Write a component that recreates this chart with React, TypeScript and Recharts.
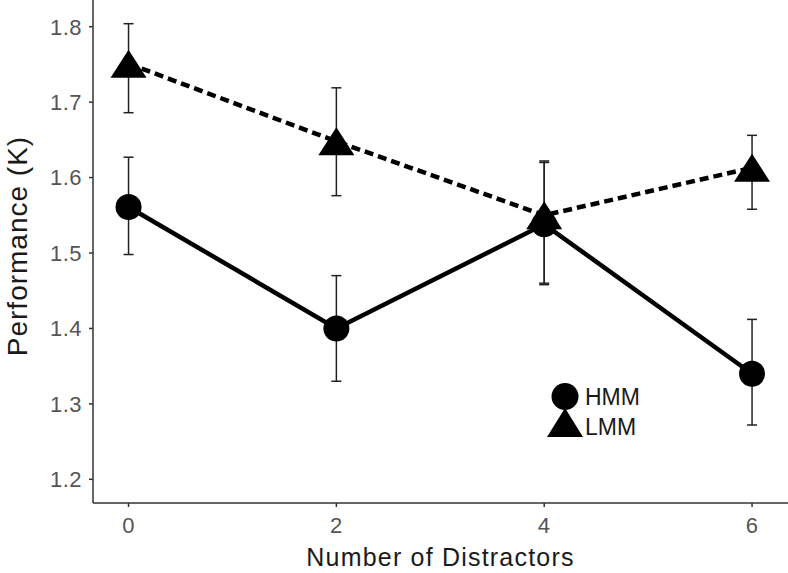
import React from "react";
import {
    ComposedChart,
    Line,
    XAxis,
    YAxis,
    ErrorBar
} from "recharts";

const distractors = [0, 2, 4, 6];
const hmmMean = [1.561, 1.4, 1.538, 1.34];
const hmmLow = [1.498, 1.33, 1.458, 1.272];
const hmmHigh = [1.627, 1.47, 1.62, 1.412];
const lmmMean = [1.751, 1.648, 1.55, 1.613];
const lmmLow = [1.686, 1.576, 1.46, 1.558];
const lmmHigh = [1.804, 1.719, 1.622, 1.656];
const xTicks = [0, 2, 4, 6];
const yTicks = [1.2, 1.3, 1.4, 1.5, 1.6, 1.7, 1.8];

const FONT = "'Liberation Sans', Arial, sans-serif";

/** Rows for recharts, error as [minus, plus] */
const data = distractors.map((x, i) => ({
    x,
    hmm: hmmMean[i],
    hmmErr: [hmmMean[i] - hmmLow[i], hmmHigh[i] - hmmMean[i]],
    lmm: lmmMean[i],
    lmmErr: [lmmMean[i] - lmmLow[i], lmmHigh[i] - lmmMean[i]]
}));

const Circle = (props: any) => {
    const { cx, cy, index } = props;
    return <circle key={`c${index}`} cx={cx} cy={cy} r={13} fill="#000" />;
};

const Triangle = (props: any) => {
    const { cx, cy, index } = props;
    const w = 18;
    const h = 14;
    return (
        <polygon
            key={`t${index}`}
            points={`${cx - w},${cy + h} ${cx + w},${cy + h} ${cx},${cy - h}`}
            fill="#000"
        />
    );
};

const tickStyle = { fill: "#555", fontSize: 22, fontFamily: FONT, letterSpacing: 0.5 };

export default function App() {
    return (
        <div style={{ position: "relative", width: 788, height: 573 }}>
            <style>{"body{margin:0}"}</style>
            <ComposedChart
                width={788}
                height={573}
                data={data}
                margin={{ top: 0, right: 0, left: 0, bottom: 0 }}
            >
                <XAxis
                    dataKey="x"
                    type="number"
                    domain={[-0.342, 6.346]}
                    allowDataOverflow
                    ticks={xTicks}
                    height={70}
                    tickSize={4}
                    tickMargin={10}
                    tick={tickStyle}
                    axisLine={{ stroke: "#333", strokeWidth: 1.5 }}
                    tickLine={{ stroke: "#333", strokeWidth: 1.5 }}
                    label={({ viewBox }: any) => (
                        <text
                            x={viewBox.x + viewBox.width / 2}
                            y={viewBox.y + 54}
                            textAnchor="middle"
                            dominantBaseline="central"
                            fill="#1a1a1a"
                            fontSize={25}
                            fontFamily={FONT}
                            letterSpacing={1.2}
                        >
                            Number of Distractors
                        </text>
                    )}
                />
                <YAxis
                    type="number"
                    domain={[1.1686, 1.8354]}
                    allowDataOverflow
                    ticks={yTicks}
                    width={93}
                    tickSize={4}
                    tickMargin={7}
                    tick={tickStyle}
                    tickFormatter={(v: number) => v.toFixed(1)}
                    axisLine={{ stroke: "#333", strokeWidth: 1.5 }}
                    tickLine={{ stroke: "#333", strokeWidth: 1.5 }}
                    label={({ viewBox }: any) => (
                        <text
                            x={17}
                            y={viewBox.y + 246}
                            transform={`rotate(-90 17 ${viewBox.y + 246})`}
                            textAnchor="middle"
                            dominantBaseline="central"
                            fill="#1a1a1a"
                            fontSize={28}
                            fontFamily={FONT}
                            letterSpacing={1}
                        >
                            Performance (K)
                        </text>
                    )}
                />
                <Line
                    dataKey="hmm"
                    stroke="#000"
                    strokeWidth={4.5}
                    dot={Circle}
                    activeDot={false}
                    isAnimationActive={false}
                >
                    <ErrorBar
                        dataKey="hmmErr"
                        direction="y"
                        width={5}
                        stroke="#222"
                        strokeWidth={1.5}
                        isAnimationActive={false}
                    />
                </Line>
                <Line
                    dataKey="lmm"
                    stroke="#000"
                    strokeWidth={4.5}
                    strokeDasharray="9 5"
                    dot={Triangle}
                    activeDot={false}
                    isAnimationActive={false}
                >
                    <ErrorBar
                        dataKey="lmmErr"
                        direction="y"
                        width={5}
                        stroke="#222"
                        strokeWidth={1.5}
                        isAnimationActive={false}
                    />
                </Line>
            </ComposedChart>
            <svg
                width={120}
                height={70}
                style={{ position: "absolute", left: 540, top: 375 }}
            >
                <circle cx={25} cy={21.5} r={13.5} fill="#000" />
                <polygon points="7,62 43,62 25,33" fill="#000" />
                <text x={45} y={21.5} dominantBaseline="central" fontSize={23} fontFamily={FONT} fill="#1a1a1a">
                    HMM
                </text>
                <text x={45} y={51.5} dominantBaseline="central" fontSize={23} fontFamily={FONT} fill="#1a1a1a">
                    LMM
                </text>
            </svg>
        </div>
    );
}
